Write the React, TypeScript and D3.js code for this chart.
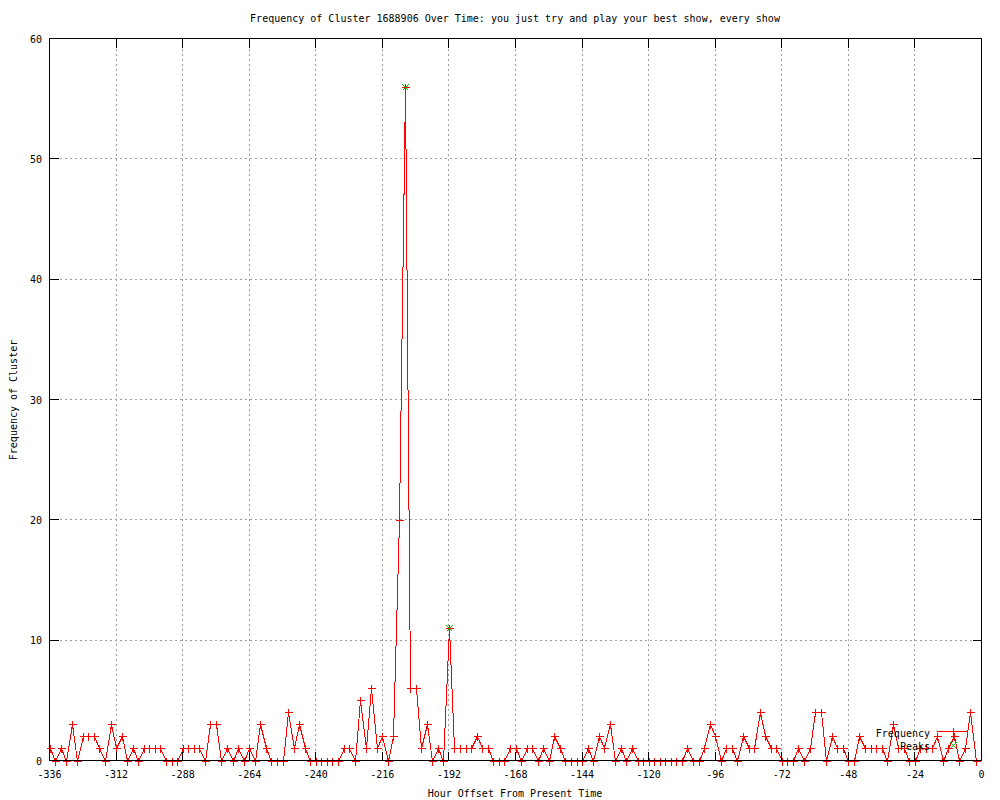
import * as d3 from "d3";
import { useEffect, useRef } from "react";

// one value every 2 hours, starting at hour -336
const startHour = -336;
const hourStep = 2;
const frequency = [
  1, 0, 1, 0, 3, 0, 2, 2, 2, 1,
  0, 3, 1, 2, 0, 1, 0, 1, 1, 1,
  1, 0, 0, 0, 1, 1, 1, 1, 0, 3,
  3, 0, 1, 0, 1, 0, 1, 0, 3, 1,
  0, 0, 0, 4, 1, 3, 1, 0, 0, 0,
  0, 0, 0, 1, 1, 0, 5, 1, 6, 1,
  2, 0, 2, 20, 56, 6, 6, 1, 3, 0,
  1, 0, 11, 1, 1, 1, 1, 2, 1, 1,
  0, 0, 0, 1, 1, 0, 1, 1, 0, 1,
  0, 2, 1, 0, 0, 0, 0, 1, 0, 2,
  1, 3, 0, 1, 0, 1, 0, 0, 0, 0,
  0, 0, 0, 0, 0, 1, 0, 0, 1, 3,
  2, 0, 1, 1, 0, 2, 1, 1, 4, 2,
  1, 1, 0, 0, 0, 1, 0, 1, 4, 4,
  0, 2, 1, 1, 0, 0, 2, 1, 1, 1,
  1, 0, 3, 1, 1, 0, 0, 1, 1, 1,
  2, 0, 1, 2, 0, 1, 4, 0,
];

const peakHours = [-208, -192];
const peakValues = [56, 11];

const xTicks = [-336, -312, -288, -264, -240, -216, -192, -168, -144, -120, -96, -72, -48, -24, 0];
const yTicks = [0, 10, 20, 30, 40, 50, 60];

const title =
  "Frequency of Cluster 1688906 Over Time: you just try and play your best show, every show";

export default function App() {
  const ref = useRef<SVGSVGElement | null>(null);

  useEffect(() => {
    const width = 1000;
    const height = 800;
    const left = 49.5;
    const right = 981.5;
    const top = 38.5;
    const bottom = 760.5;
    const tic = 9;
    const font = "'DejaVu Sans Mono', monospace";

    const svg = d3.select(ref.current);
    svg.selectAll("*").remove();
    svg.attr("width", width).attr("height", height);

    svg.append("rect").attr("width", width).attr("height", height).attr("fill", "#fff");

    const x = d3.scaleLinear().domain([-336, 0]).range([left, right]);
    const y = d3.scaleLinear().domain([0, 60]).range([bottom, top]);

    const data = frequency.map((v, i) => ({ hour: startHour + i * hourStep, value: v }));
    const peaks = peakHours.map((h, i) => ({ hour: h, value: peakValues[i] }));

    // grid
    const grid = svg.append("g").attr("stroke", "#a0a0a0").attr("stroke-dasharray", "2,3")
      .attr("shape-rendering", "crispEdges");
    grid.selectAll("line.gx").data(xTicks.slice(1, -1)).enter().append("line")
      .attr("x1", (d) => x(d)).attr("x2", (d) => x(d)).attr("y1", top).attr("y2", bottom);
    grid.selectAll("line.gy").data(yTicks.slice(1, -1)).enter().append("line")
      .attr("x1", left).attr("x2", right).attr("y1", (d) => y(d)).attr("y2", (d) => y(d));

    // data line
    const line = d3.line<{ hour: number; value: number }>()
      .x((d) => Math.round(x(d.hour)) + 0.5)
      .y((d) => Math.round(y(d.value)) + 0.5);
    svg.append("path").datum(data).attr("d", line).attr("fill", "none")
      .attr("stroke", "#ff0000").attr("stroke-width", 1).attr("shape-rendering", "crispEdges");

    // plus markers
    const plus = (cx: number, cy: number) =>
      `M${cx - 4},${cy}H${cx + 4}M${cx},${cy - 4}V${cy + 4}`;
    svg.append("path")
      .attr("d", data.map((d) => plus(Math.round(x(d.hour)) + 0.5, Math.round(y(d.value)) + 0.5)).join(""))
      .attr("stroke", "#ff0000").attr("fill", "none").attr("shape-rendering", "crispEdges");

    // peak markers
    const cross = (cx: number, cy: number) =>
      `M${cx - 3},${cy - 3}L${cx + 3},${cy + 3}M${cx - 3},${cy + 3}L${cx + 3},${cy - 3}`;
    svg.append("path")
      .attr("d", peaks.map((d) => cross(Math.round(x(d.hour)) + 0.5, Math.round(y(d.value)) + 0.5)).join(""))
      .attr("stroke", "#00c000").attr("fill", "none").attr("shape-rendering", "crispEdges");

    // border
    svg.append("rect").attr("x", left).attr("y", top).attr("width", right - left)
      .attr("height", bottom - top).attr("fill", "none").attr("stroke", "#000")
      .attr("shape-rendering", "crispEdges");

    // tics
    const tics = svg.append("g").attr("stroke", "#000").attr("shape-rendering", "crispEdges");
    xTicks.forEach((t) => {
      tics.append("line").attr("x1", x(t)).attr("x2", x(t)).attr("y1", bottom).attr("y2", bottom - tic);
      tics.append("line").attr("x1", x(t)).attr("x2", x(t)).attr("y1", top).attr("y2", top + tic);
    });
    yTicks.forEach((t) => {
      tics.append("line").attr("x1", left).attr("x2", left + tic).attr("y1", y(t)).attr("y2", y(t));
      tics.append("line").attr("x1", right).attr("x2", right - tic).attr("y1", y(t)).attr("y2", y(t));
    });

    const text = svg.append("g").attr("font-family", font).attr("font-size", 10).attr("fill", "#000");

    text.selectAll("text.xt").data(xTicks).enter().append("text")
      .attr("x", (d) => x(d)).attr("y", 778).attr("text-anchor", "middle").text((d) => String(d));
    text.selectAll("text.yt").data(yTicks).enter().append("text")
      .attr("x", 42).attr("y", (d) => y(d) + 4).attr("text-anchor", "end").text((d) => String(d));

    text.append("text").attr("x", 515).attr("y", 22).attr("text-anchor", "middle").text(title);
    text.append("text").attr("x", 515).attr("y", 797).attr("text-anchor", "middle")
      .text("Hour Offset From Present Time");
    text.append("text").attr("transform", "translate(17,400) rotate(-90)")
      .attr("text-anchor", "middle").text("Frequency of Cluster");

    // key
    text.append("text").attr("x", 930).attr("y", 737).attr("text-anchor", "end").text("Frequency");
    text.append("text").attr("x", 930).attr("y", 750).attr("text-anchor", "end").text("Peaks");
    svg.append("line").attr("x1", 937).attr("x2", 968).attr("y1", 731.5).attr("y2", 731.5)
      .attr("stroke", "#ff0000").attr("shape-rendering", "crispEdges");
    svg.append("path").attr("d", plus(953.5, 731.5)).attr("stroke", "#ff0000")
      .attr("fill", "none").attr("shape-rendering", "crispEdges");
    svg.append("path").attr("d", cross(953.5, 745.5)).attr("stroke", "#00c000")
      .attr("fill", "none").attr("shape-rendering", "crispEdges");
  }, []);

  return (
    <div style={{ position: "absolute", left: 0, top: 0 }}>
      <svg ref={ref}></svg>
    </div>
  );
}
